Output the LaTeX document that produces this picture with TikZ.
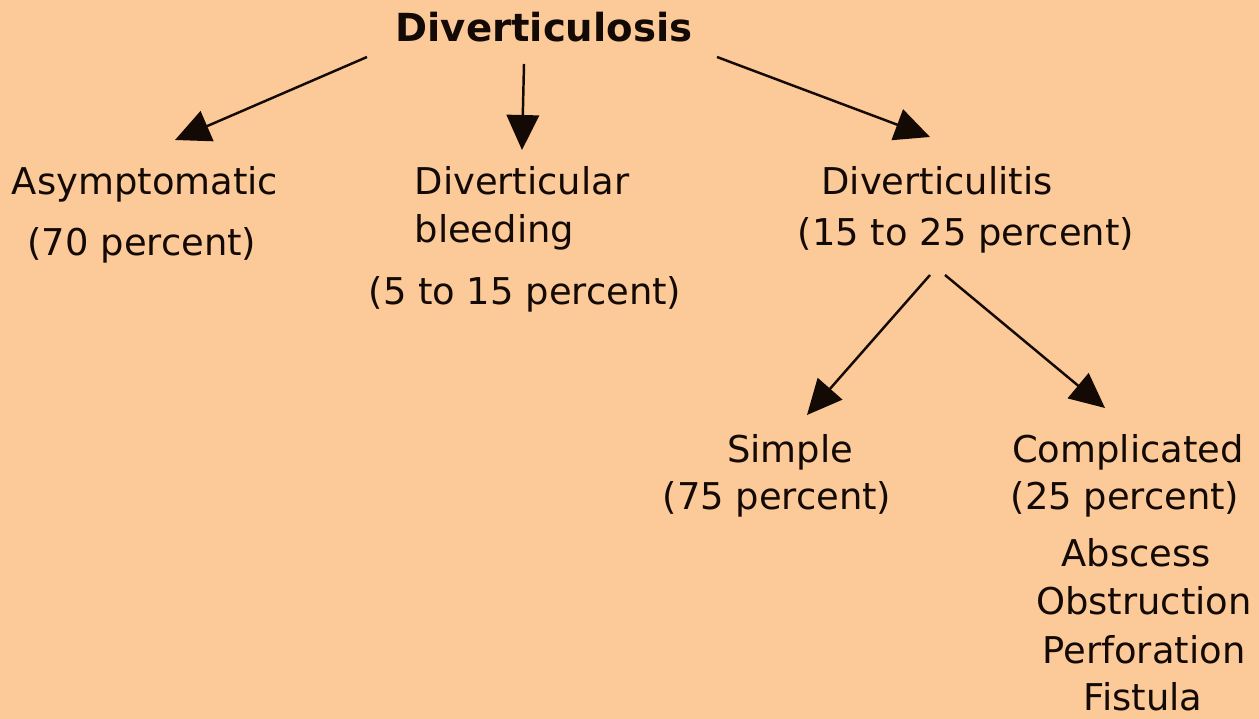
\documentclass[tikz,border=0pt]{standalone}
\usepackage{fontspec}
\setmainfont{DejaVu Sans}
\usetikzlibrary{arrows.meta, calc}
\definecolor{peach}{RGB}{252,201,152}
\definecolor{ink}{RGB}{20,10,5}

\begin{document}
\begin{tikzpicture}[x=0.02cm, y=-0.02cm,
    lbl/.style={anchor=base, inner sep=0pt, text=ink, font=\fontsize{21}{25}\selectfont},
    arr/.style={draw=ink, line width=1.4pt, -{Triangle[length=0.7cm, width=0.65cm]}}]
                        \fill[peach] (0,0) rectangle (1259,719);
                        \useasboundingbox (0,0) rectangle (1259,719);
                        % top
                        \node[lbl, font=\fontsize{22}{26}\selectfont\bfseries] (root) at (544,42) {Diverticulosis};
                        % first row
                        \node[lbl] (asym) at (145,195) {Asymptomatic};
                        \node[lbl] (asympct) at (142,256) {(70 percent)};
                        \node[lbl] (bleed) at (522,195) {Diverticular};
                        \node[lbl, anchor=base west] (bleed2) at (bleed.base west |- 0,243) {bleeding};
                        \node[lbl] (bleedpct) at (525,305) {(5 to 15 percent)};
                        \node[lbl] (itis) at (937,195) {Diverticulitis};
                        \node[lbl] (itispct) at (966,246) {(15 to 25 percent)};
                        % second row
                        \node[lbl] (simple) at (790,463) {Simple};
                        \node[lbl] (simplepct) at (777,510) {(75 percent)};
                        \node[lbl] (compl) at (1128,463) {Complicated};
                        \node[lbl] (complpct) at (1125,510) {(25 percent)};
                        \node[lbl] (absc) at (1136,567) {Abscess};
                        \node[lbl] (obst) at (1144,615) {Obstruction};
                        \node[lbl] (perf) at (1144,664) {Perforation};
                        \node[lbl] (fist) at (1143,711) {Fistula};
                        % arrows
                        \draw[arr] ($(root.base)+(-177,15)$) -- ($(asym.base)+(30,-55)$);
                        \draw[arr] ($(root.base)+(-20,22)$) -- ($(bleed.base)+(0,-45)$);
                        \draw[arr] ($(root.base)+(173,15)$) -- ($(itis.base)+(-7,-58)$);
                        \draw[arr] ($(itispct.base)+(-36,29)$) -- ($(simple.base)+(17,-48)$);
                        \draw[arr] ($(itispct.base)+(-21,29)$) -- ($(compl.base)+(-23,-55)$);
                    \end{tikzpicture}
\end{document}
